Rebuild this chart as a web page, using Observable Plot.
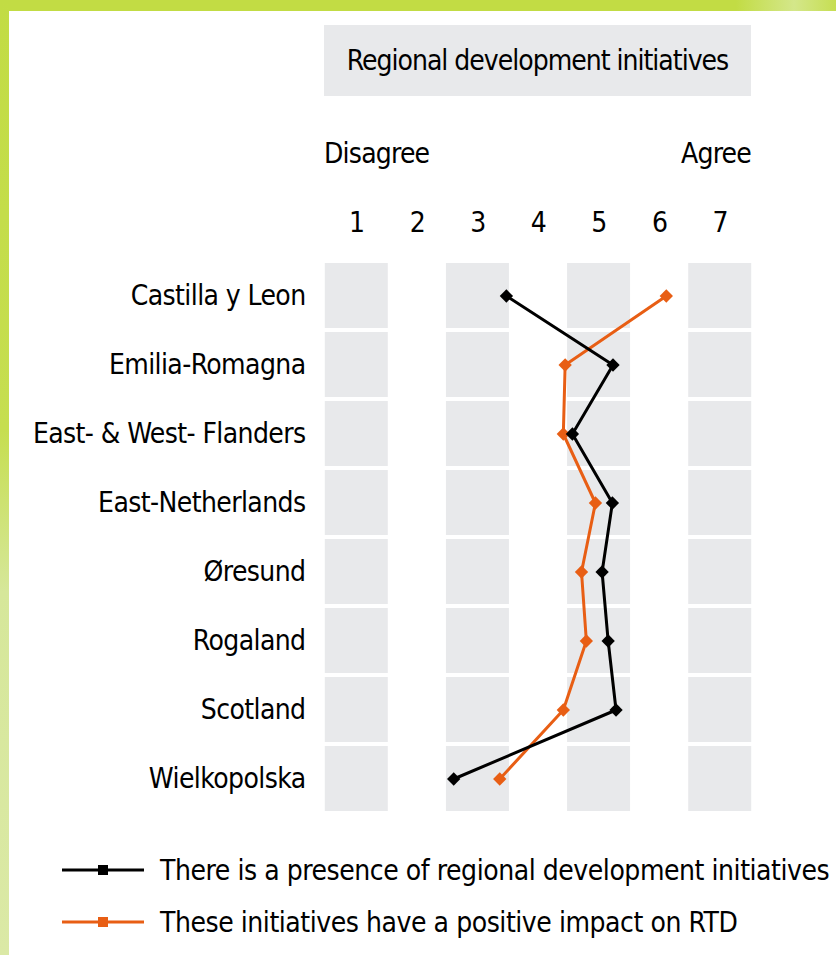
<!DOCTYPE html>
<html><head><meta charset="utf-8">
<script src="https://cdn.jsdelivr.net/npm/d3@7"></script>
<script src="https://cdn.jsdelivr.net/npm/@observablehq/plot@0.6"></script>
<style>
body{margin:0;background:#fff;}
#page{position:relative;width:836px;height:955px;background:#fff;overflow:hidden;font-family:"Liberation Sans Narrow","DejaVu Sans Condensed","Arial Narrow",sans-serif;font-stretch:condensed;color:#000;letter-spacing:-0.8px;}
#topbar{position:absolute;left:0;top:0;width:836px;height:11px;background:linear-gradient(to right,#c2dc44 0%,#c2dc44 88%,#d4e78a 95%,#c6de52 100%);}
#leftbar{position:absolute;left:0;top:0;width:9px;height:955px;background:linear-gradient(to bottom,#c2dc44 0%,#c6de50 45%,#d6e79a 62%,#dbe9a6 100%);}
#title{position:absolute;left:324px;top:25px;width:427px;height:71px;background:#e8e9eb;display:flex;align-items:center;justify-content:center;font-size:28px;white-space:nowrap;letter-spacing:-1px;}
.end{position:absolute;top:138px;font-size:28px;line-height:32px;}
#chart{position:absolute;left:0;top:190px;}
#legend{position:absolute;left:62px;top:850px;}
.item{display:flex;align-items:center;height:40px;margin-bottom:12px;font-size:28px;white-space:nowrap;letter-spacing:-0.45px;}
.item svg{margin-right:16px;}
</style></head>
<body><div id="page">
<div id="topbar"></div><div id="leftbar"></div>
<div id="title"></div>
<div class="end" id="dis" style="left:324px"></div>
<div class="end" id="agr" style="right:85px"></div>
<div id="chart"></div>
<div id="legend"></div>
</div>
<script>
const chartTitle = "Regional development initiatives";
const scaleEnds = ["Disagree", "Agree"];
const regions = ["Castilla y Leon","Emilia-Romagna","East- & West- Flanders","East-Netherlands","Øresund","Rogaland","Scotland","Wielkopolska"];
const presence = [3.47, 5.23, 4.56, 5.22, 5.05, 5.15, 5.28, 2.60];
const impact   = [6.11, 4.44, 4.41, 4.94, 4.71, 4.79, 4.41, 3.36];
const tickValues = [1,2,3,4,5,6,7];
const shadedColumns = [1,3,5,7];
const seriesNames = ["There is a presence of regional development initiatives","These initiatives have a positive impact on RTD"];
const seriesColors = ["#000000","#e85e14"];

document.getElementById("title").textContent = chartTitle;
document.getElementById("dis").textContent = scaleEnds[0];
document.getElementById("agr").textContent = scaleEnds[1];

const rows = regions.map((r,i)=>({region:r, presence:presence[i], impact:impact[i]}));
const cells = regions.flatMap(r => shadedColumns.map(c => ({region:r, col:c})));
const font = '"Liberation Sans Narrow","DejaVu Sans Condensed","Arial Narrow",sans-serif';

const chart = Plot.plot({
  width: 836, height: 640,
  marginTop: 71, marginBottom: 18, marginLeft: 326, marginRight: 86,
  x: {domain:[0.5,7.5]},
  y: {domain: regions, paddingInner: 0.06, paddingOuter: 0},
  style: {fontFamily: font, fontSize: "28px", color: "#000", background: "transparent", letterSpacing: "-0.6px"},
  marks: [
    Plot.barX(cells, {x1: d => d.col - 0.52, x2: d => d.col + 0.52, y: "region", fill: "#e8e9eb"}),
    Plot.axisX(tickValues, {anchor: "top", tickSize: 0, tickPadding: 30, label: null, fontSize: 28}),
    Plot.axisY({anchor: "left", tickSize: 0, tickPadding: 21, label: null, fontSize: 28}),
    Plot.line(rows, {x: "impact", y: "region", stroke: seriesColors[1], strokeWidth: 3}),
    Plot.dot(rows, {x: "impact", y: "region", fill: seriesColors[1], r: 6, symbol: "diamond2"}),
    Plot.line(rows, {x: "presence", y: "region", stroke: seriesColors[0], strokeWidth: 3}),
    Plot.dot(rows, {x: "presence", y: "region", fill: seriesColors[0], r: 6, symbol: "diamond2"})
  ]
});
document.getElementById("chart").appendChild(chart);

const legend = document.getElementById("legend");
seriesNames.forEach((name,i)=>{
  const div = document.createElement("div");
  div.className = "item";
  div.innerHTML = `<svg width="82" height="20"><line x1="0" y1="10" x2="82" y2="10" stroke="${seriesColors[i]}" stroke-width="3"/><rect x="36" y="5" width="10" height="10" fill="${seriesColors[i]}"/></svg><span></span>`;
  div.querySelector("span").textContent = name;
  legend.appendChild(div);
});
</script>
</body></html>
